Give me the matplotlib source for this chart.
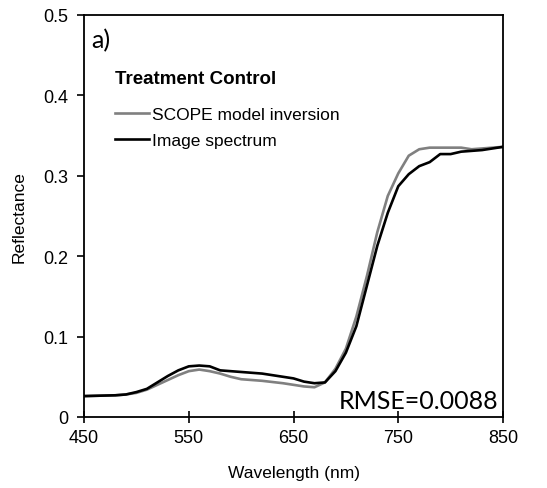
import matplotlib
matplotlib.use("Agg")
import matplotlib.pyplot as plt

wavelength = [450, 480, 490, 500, 510, 520, 530, 540, 550, 560, 570, 580, 590, 600, 620, 640, 650, 660, 670, 680,
              690, 700, 710, 720, 730, 740, 750, 760, 770, 780, 790, 800, 810, 820, 830, 840, 850]
scope = [0.026, 0.027, 0.028, 0.030, 0.034, 0.040, 0.046, 0.052, 0.057, 0.059, 0.057, 0.054, 0.050, 0.047, 0.045,
         0.042, 0.040, 0.038, 0.037, 0.043, 0.060, 0.085, 0.125, 0.175, 0.230, 0.275, 0.303, 0.325, 0.333, 0.335,
         0.335, 0.335, 0.335, 0.333, 0.334, 0.335, 0.336]
image = [0.026, 0.027, 0.028, 0.031, 0.035, 0.043, 0.051, 0.058, 0.063, 0.064, 0.063, 0.058, 0.057, 0.056, 0.054,
         0.050, 0.048, 0.044, 0.042, 0.043, 0.057, 0.080, 0.113, 0.163, 0.213, 0.254, 0.287, 0.302, 0.312, 0.317,
         0.327, 0.327, 0.330, 0.331, 0.332, 0.334, 0.336]
xticks = [450, 550, 650, 750, 850]
yticks = [0, 0.1, 0.2, 0.3, 0.4, 0.5]
ytick_labels = ["0", "0.1", "0.2", "0.3", "0.4", "0.5"]

plt.rcParams['font.family'] = ['Liberation Sans', 'DejaVu Sans']

fig = plt.figure(figsize=(5.47, 4.89), dpi=100)
ax = fig.add_axes([0.1536, 0.1452, 0.7660, 0.8221])

ax.plot(wavelength, scope, color='#808080', lw=1.9, label='SCOPE model inversion')
ax.plot(wavelength, image, color='black', lw=1.9, label='Image spectrum')

ax.set_xlim(450, 850)
ax.set_ylim(0, 0.5)
ax.set_xticks(xticks)
ax.set_xticklabels([str(v) for v in xticks])
ax.set_yticks(yticks)
ax.set_yticklabels(ytick_labels)
ax.tick_params(axis='x', direction='inout', length=9, width=1.2, labelsize=13, pad=4)
ax.tick_params(axis='y', direction='out', length=5, width=1.2, labelsize=13, pad=6)
for s in ax.spines.values():
    s.set_linewidth(1.3)

ax.set_xlabel('Wavelength (nm)', fontsize=12.5, labelpad=14)
ax.set_ylabel('Reflectance', fontsize=12.5, labelpad=12)

ax.text(0.074, 0.841, 'Treatment Control', transform=ax.transAxes, fontsize=13.5, fontweight='bold',
        ha='left', va='center')
leg = ax.legend(loc='center left', bbox_to_anchor=(0.074, 0.720),
                frameon=False, fontsize=12.5, handlelength=1.95, handletextpad=0.2,
                labelspacing=0.6, borderaxespad=0, borderpad=0)

ax.text(0.017, 0.92, 'a)', transform=ax.transAxes, fontsize=18, family=['Lato', 'DejaVu Sans'],
        ha='left', va='baseline')
ax.text(0.988, 0.022, 'RMSE=0.0088', transform=ax.transAxes, fontsize=18, family=['Lato', 'DejaVu Sans'],
        ha='right', va='baseline')

fig.savefig('out.png', dpi=100)
